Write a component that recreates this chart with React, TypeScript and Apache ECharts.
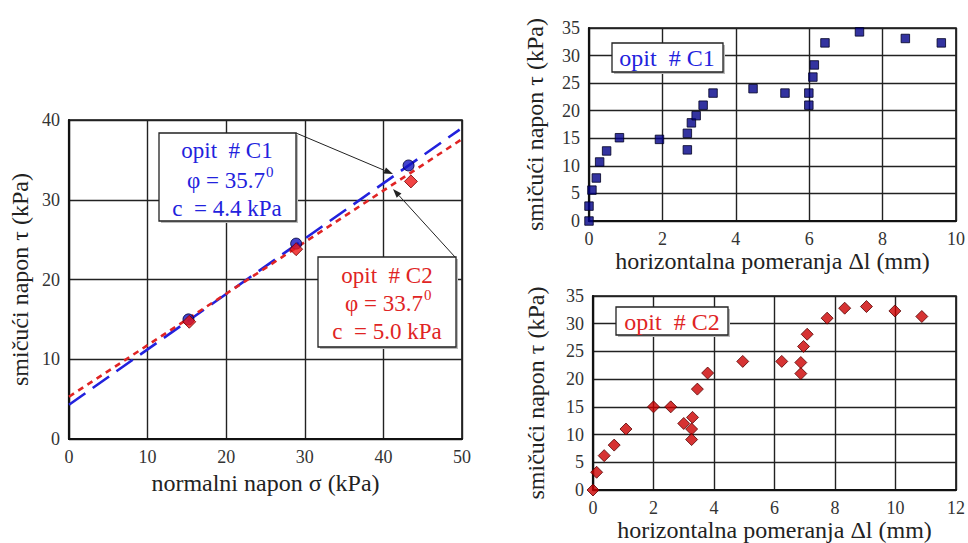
import React, { useEffect, useRef } from "react";
import * as echarts from "echarts";

// ---- Data ----
// Left: Mohr-Coulomb envelope, normal stress vs shear stress (kPa)
const c1Peaks: number[][] = [[15.2, 15.0], [28.9, 24.5], [43.2, 34.3]];
const c2Peaks: number[][] = [[15.3, 14.7], [28.9, 23.8], [43.5, 32.3]];
const c1Envelope: number[][] = [[0, 4.3], [49.7, 38.8]];
const c2Envelope: number[][] = [[0, 5.3], [50, 37.6]];

// Top right: test C1, horizontal displacement (mm) vs shear stress (kPa)
const c1Disp: number[] = [0, 0, 0.08, 0.2, 0.29, 0.48, 0.83, 1.92, 2.68, 2.68, 2.79, 2.92, 3.11, 3.38, 4.47, 5.34, 5.99, 5.99, 6.1, 6.14, 6.43, 7.37, 8.62, 9.6];
const c1Shear: number[] = [0, 2.7, 5.6, 7.8, 10.7, 12.7, 15.1, 14.8, 15.9, 12.9, 17.8, 19.1, 21.0, 23.2, 24.0, 23.2, 23.2, 21.0, 26.1, 28.3, 32.3, 34.3, 33.1, 32.3];

// Bottom right: test C2
const c2Disp: number[] = [0, 0.12, 0.37, 0.7, 1.09, 2.0, 2.57, 3.0, 3.29, 3.26, 3.26, 3.45, 3.79, 4.95, 6.24, 6.87, 6.87, 6.96, 7.08, 7.74, 8.32, 9.04, 9.98, 10.87];
const c2Shear: number[] = [0, 3.2, 6.2, 8.1, 11.0, 15.0, 15.0, 12.0, 13.1, 11.0, 9.1, 18.2, 21.1, 23.2, 23.2, 23.0, 21.0, 25.9, 28.1, 31.0, 32.8, 33.1, 32.3, 31.3];

const FONT = "Liberation Serif";
const BLUE = "#2222dd";
const RED = "#e02424";

function arrow(x1: number, y1: number, x2: number, y2: number) {
  const dx = x2 - x1, dy = y2 - y1;
  const len = Math.sqrt(dx * dx + dy * dy);
  const ux = dx / len, uy = dy / len;
  const L = 9, W = 3.2;
  const bx = x2 - ux * L, by = y2 - uy * L;
  return [
    { type: "line", z: 100, shape: { x1, y1, x2: bx, y2: by }, style: { stroke: "#222", lineWidth: 1 } },
    {
      type: "polygon", z: 100,
      shape: { points: [[x2, y2], [bx - uy * W, by + ux * W], [bx + uy * W, by - ux * W]] },
      style: { fill: "#222" },
    },
  ];
}

function box(x: number, y: number, w: number, h: number) {
  return [
    { type: "rect", z: 99, shape: { x: x + 2, y: y + 2, width: w, height: h }, style: { fill: "#bbb" } },
    { type: "rect", z: 100, shape: { x, y, width: w, height: h }, style: { fill: "#fff", stroke: "#222", lineWidth: 1.3 } },
  ];
}

function txt(text: string, x: number, y: number, color: string, size: number, align = "center") {
  return {
    type: "text", z: 101, x, y,
    style: { text, fill: color, font: `${size}px "${FONT}"`, align, verticalAlign: "middle" },
  };
}

function axisPair(gridIndex: number, xmax: number, xint: number, ymax: number, yint: number, xname: string, yname: string, labelSize: number) {
  const common = {
    gridIndex,
    nameLocation: "middle",
    nameTextStyle: { fontFamily: FONT, fontSize: 24, color: "#222" },
    axisLine: { show: true, onZero: false, lineStyle: { color: "#111", width: 2.2 } },
    axisTick: { show: false },
    axisLabel: { fontFamily: FONT, fontSize: labelSize, color: "#333" },
    splitLine: { show: true, lineStyle: { color: "#222", width: 1.4 } },
  };
  return {
    x: { ...common, type: "value", min: 0, max: xmax, interval: xint, name: xname, nameGap: 26, axisLabel: { ...common.axisLabel, margin: 9 } },
    y: { ...common, type: "value", min: 0, max: ymax, interval: yint, name: yname, nameGap: 34, axisLabel: { ...common.axisLabel, margin: 9 } },
  };
}

export default function App() {
  const ref = useRef<HTMLDivElement>(null);
  useEffect(() => {
    if (!ref.current) return;
    const chart = echarts.init(ref.current, null, { renderer: "svg" });
    const a0 = axisPair(0, 50, 10, 40, 10, "normalni napon σ (kPa)", "smičući napon τ (kPa)", 18);
    const a1 = axisPair(1, 10, 2, 35, 5, "horizontalna pomeranja Δl (mm)", "smičući napon τ (kPa)", 18);
    const a2 = axisPair(2, 12, 2, 35, 5, "horizontalna pomeranja Δl (mm)", "smičući napon τ (kPa)", 18);
    a0.y.nameGap = 37;
    a0.x.nameGap = 21;
    a1.y.nameGap = 42;
    a2.y.nameGap = 45;
    a2.x.nameGap = 27;

    const c1Pts = c1Disp.map((d, i) => [d, c1Shear[i]]);
    const c2Pts = c2Disp.map((d, i) => [d, c2Shear[i]]);

    chart.setOption({
      animation: false,
      backgroundColor: "#fff",
      grid: [
        { left: 69, top: 120, width: 393, height: 319, show: true, borderColor: "#111", borderWidth: 1.6, backgroundColor: "transparent" },
        { left: 589, top: 28, width: 372, height: 193, show: true, borderColor: "#111", borderWidth: 1.6, backgroundColor: "transparent" },
        { left: 593, top: 296, width: 369, height: 194, show: true, borderColor: "#111", borderWidth: 1.6, backgroundColor: "transparent" },
      ],
      xAxis: [a0.x, a1.x, a2.x],
      yAxis: [a0.y, a1.y, a2.y],
      series: [
        {
          type: "line", xAxisIndex: 0, yAxisIndex: 0, data: c1Envelope, showSymbol: false, z: 3,
          lineStyle: { color: BLUE, width: 2.6, type: [20, 9] },
        },
        {
          type: "line", xAxisIndex: 0, yAxisIndex: 0, data: c2Envelope, showSymbol: false, z: 3,
          lineStyle: { color: RED, width: 2.6, type: [6, 5] },
        },
        {
          type: "scatter", xAxisIndex: 0, yAxisIndex: 0, data: c1Peaks, symbol: "circle", symbolSize: 11, z: 4,
          itemStyle: { color: "#1515c0", borderColor: "#000033", borderWidth: 1 },
        },
        {
          type: "scatter", xAxisIndex: 0, yAxisIndex: 0, data: c2Peaks, symbol: "diamond", symbolSize: 13, z: 5,
          itemStyle: { color: "#ee1515", borderColor: "#700000", borderWidth: 1 },
        },
        {
          type: "scatter", xAxisIndex: 1, yAxisIndex: 1, data: c1Pts, symbol: "rect", symbolSize: 8.5, z: 4,
          itemStyle: { color: "#000088", borderColor: "#000022", borderWidth: 1 },
        },
        {
          type: "scatter", xAxisIndex: 2, yAxisIndex: 2, data: c2Pts, symbol: "diamond", symbolSize: 12, z: 4,
          itemStyle: { color: "#cc0000", borderColor: "#550000", borderWidth: 1 },
        },
      ],
      graphic: [
        ...arrow(296, 133, 393, 174),
        ...arrow(455, 257, 393, 189),
        ...box(159, 133, 137, 88),
        txt("opit  # C1", 227, 150, BLUE, 23),
        txt("φ = 35.7", 265, 180, BLUE, 23, "right"),
        txt("0", 266, 172, BLUE, 15, "left"),
        txt("c  = 4.4 kPa", 227, 208, BLUE, 23),
        ...box(318, 257, 138, 90),
        txt("opit  # C2", 387, 275, RED, 23),
        txt("φ = 33.7", 423, 303, RED, 23, "right"),
        txt("0", 424, 295, RED, 15, "left"),
        txt("c  = 5.0 kPa", 387, 331, RED, 23),
        ...box(612, 43, 111, 29),
        txt("opit  # C1", 667, 58, BLUE, 24),
        ...box(616, 307, 112, 28),
        txt("opit  # C2", 672, 322, RED, 24),
      ],
    });
    return () => chart.dispose();
  }, []);
  return <div ref={ref} style={{ position: "fixed", left: 0, top: 0, width: 968, height: 543, background: "#fff" }} />;
}
